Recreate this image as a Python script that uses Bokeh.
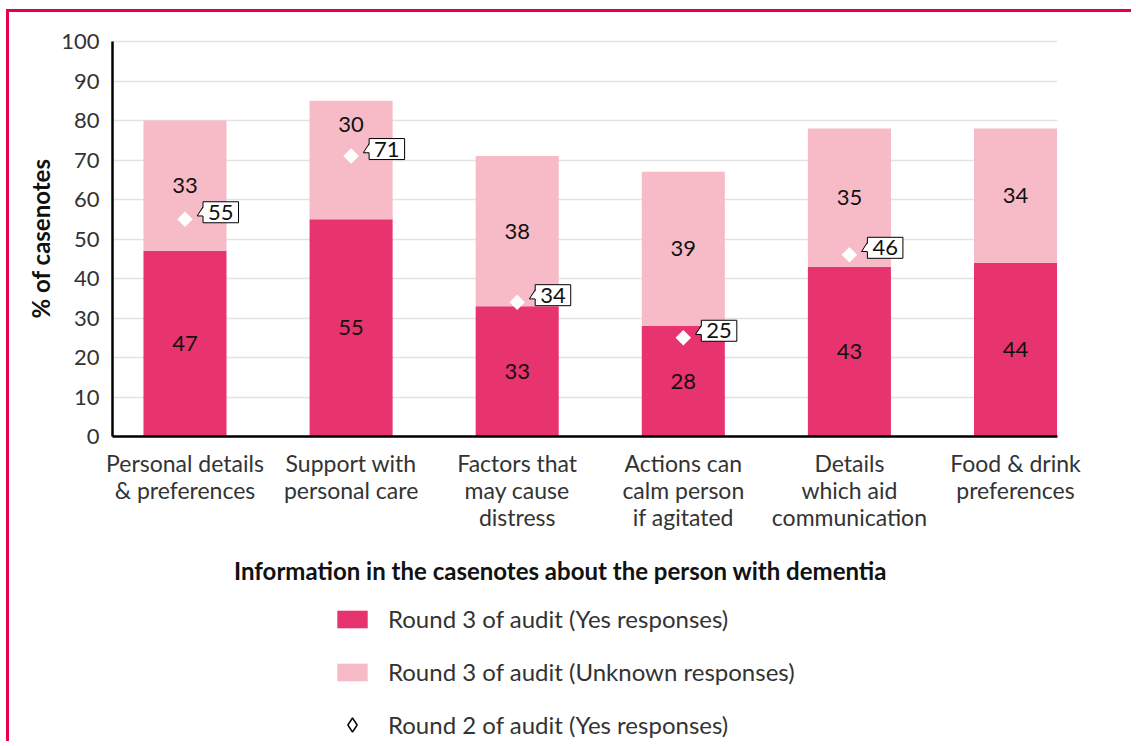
import math
from bokeh.plotting import figure
from bokeh.models import (ColumnDataSource, FixedTicker, Legend, LegendItem, Label, Range1d)
from bokeh.embed import file_html
from bokeh.resources import INLINE
from bokeh.core.properties import value

# ---------------- data ----------------
categories = [
    "Personal details\n& preferences",
    "Support with\npersonal care",
    "Factors that\nmay cause\ndistress",
    "Actions can\ncalm person\nif agitated",
    "Details\nwhich aid\ncommunication",
    "Food & drink\npreferences",
]
yes_round3 = [47, 55, 33, 28, 43, 44]
unknown_round3 = [33, 30, 38, 39, 35, 34]
yes_round2 = [55, 71, 34, 25, 46, None]
y_ticks = [0, 10, 20, 30, 40, 50, 60, 70, 80, 90, 100]

series_labels = [
    "Round 3 of audit (Yes responses)",
    "Round 3 of audit (Unknown responses)",
    "Round 2 of audit (Yes responses)",
]
x_title = "Information in the casenotes about the person with dementia"
y_title = "% of casenotes"

# ---------------- style / layout ----------------
FONT = "Lato"
DARK = "#E7336E"
LIGHT = "#F6BBC7"
FRAME = "#E6004C"
GRID = "#E3E3E3"
TXT = "#333333"
INK = "#111111"

W, H = 1125, 732
ORG_X, ORG_Y = 9, 12          # canvas origin on the page (after css margin + border)
CX0, PXX = 184.5, 166.1       # page x of first category, px per category
CY0, PXY = 436.0, 3.95        # page y of value 0, px per percentage point
XL = (ORG_X - CX0) / PXX
XR = (ORG_X + W - CX0) / PXX
YT = (CY0 - ORG_Y) / PXY
YB = (CY0 - ORG_Y - H) / PXY
XA = (112 - CX0) / PXX        # plot-area left (y axis position)
XB = (1057 - CX0) / PXX       # plot-area right
dx, dy = 1.0 / PXX, 1.0 / PXY

def px_x(page_x):
    return (page_x - CX0) / PXX

def px_y(page_y):
    return (CY0 - page_y) / PXY

xs = list(range(len(categories)))
tops = [a + b for a, b in zip(yes_round3, unknown_round3)]
yes_mid = [v / 2 for v in yes_round3]
unk_mid = []
for i in xs:
    mid = yes_round3[i] + unknown_round3[i] / 2
    r2 = yes_round2[i]
    if r2 is not None and abs(r2 - mid) < 5:
        mid = tops[i] - 6   # moved clear of the round-2 marker
    unk_mid.append(mid)

src = ColumnDataSource(dict(
    x=xs, yes=yes_round3, top=tops, yes_mid=yes_mid, unk_mid=unk_mid,
    yes_lab=[str(v) for v in yes_round3], unk_lab=[str(v) for v in unknown_round3],
))

r2x = [i for i, v in enumerate(yes_round2) if v is not None]
r2y = [v for v in yes_round2 if v is not None]
src2 = ColumnDataSource(dict(x=r2x, y=r2y, lab=[str(v) for v in r2y]))

# callout tails (offsets in px from each marker, converted to data units)
tail_xs = [[x + 12.2 * dx, x + 19.0 * dx, x + 19.0 * dx] for x in r2x]
tail_ys = [[y + 3.3 * dy, y + 12.3 * dy, y + 3.3 * dy] for y in r2y]
edge_xs = [[x + 17.9 * dx, x + 12.2 * dx, x + 17.9 * dx] for x in r2x]
edge_ys = [[y + 12.3 * dy, y + 3.3 * dy, y + 3.3 * dy] for y in r2y]

p = figure(width=W, height=H, x_range=Range1d(XL, XR), y_range=Range1d(YB, YT),
           output_backend="svg", toolbar_location=None,
           min_border_left=0, min_border_right=0, min_border_top=0, min_border_bottom=0)
p.outline_line_color = None
p.styles = {"border-top": f"3px solid {FRAME}", "border-left": f"3px solid {FRAME}",
            "margin-left": "6px", "margin-top": "9px"}

r_yes = p.vbar(x="x", top="yes", bottom=0, width=0.5, source=src, fill_color=DARK, line_color=None)
r_unk = p.vbar(x="x", top="top", bottom="yes", width=0.5, source=src, fill_color=LIGHT, line_color=None)

p.text(x="x", y="yes_mid", text="yes_lab", source=src, text_align="center", text_baseline="middle",
       text_font=value(FONT), text_font_size="22px", text_color=INK)
p.text(x="x", y="unk_mid", text="unk_lab", source=src, text_align="center", text_baseline="middle",
       text_font=value(FONT), text_font_size="22px", text_color=INK)

p.scatter(x="x", y="y", source=src2, marker="square", angle=math.pi / 4, size=11,
          fill_color="white", line_color=None)
p.text(x="x", y="y", text="lab", source=src2, x_offset=18, y_offset=-7,
       text_align="left", text_baseline="middle", text_font=value(FONT),
       text_font_size="22px", text_color=INK,
       background_fill_color="white", border_line_color="black", border_line_width=1,
       padding=(5, 3))
p.patches(xs=tail_xs, ys=tail_ys, fill_color="white", line_color=None)
p.multi_line(xs=edge_xs, ys=edge_ys, line_color="black", line_width=1)

# legend-only marker (outlined diamond)
r_leg = p.scatter(x=[math.nan], y=[math.nan], marker="diamond",
                  fill_color="white", line_color="black", line_width=1.4)

# axes and grid
p.xgrid.visible = False
p.ygrid.grid_line_color = GRID
p.ygrid.grid_line_width = 1.5
p.ygrid.ticker = FixedTicker(ticks=y_ticks)
p.ygrid.cross_bounds = (XA, XB)
p.yaxis.ticker = FixedTicker(ticks=y_ticks)
p.yaxis.bounds = (0, 100)
p.yaxis.fixed_location = XA
p.xaxis.ticker = FixedTicker(ticks=xs)
p.xaxis.bounds = (XA, XB)
p.xaxis.fixed_location = 0
p.xaxis.major_label_overrides = {i: c for i, c in enumerate(categories)}
for ax in (p.xaxis[0], p.yaxis[0]):
    ax.axis_line_color = "black"
    ax.axis_line_width = 2.5
    ax.major_tick_line_color = None
    ax.minor_tick_line_color = None
    ax.major_label_text_font = FONT
    ax.major_label_text_color = TXT
p.yaxis.major_label_text_font_size = "22px"
p.yaxis.major_label_standoff = 7
p.xaxis.major_label_text_font_size = "23px"
p.xaxis.major_label_standoff = 6
p.xaxis.major_label_text_line_height = 0.97

p.add_layout(Label(x=px_x(40), y=px_y(238), text=y_title, angle=math.pi / 2,
                   text_align="center", text_baseline="middle", text_font=FONT,
                   text_font_size="24px", text_font_style="bold", text_color=INK))
p.add_layout(Label(x=px_x(560), y=px_y(570), text=x_title, text_align="center",
                   text_baseline="middle", text_font=FONT, text_font_size="24px",
                   text_font_style="bold", text_color=INK))

common = dict(orientation="vertical", glyph_width=38, label_standoff=17, padding=0, margin=0,
              border_line_color=None, background_fill_alpha=0, label_text_font=FONT,
              label_text_font_size="24px", label_text_color=TXT)
legend_a = Legend(items=[
    LegendItem(label=series_labels[0], renderers=[r_yes]),
    LegendItem(label=series_labels[1], renderers=[r_unk]),
], location=(333 - ORG_X, 58), glyph_height=22, spacing=24, label_height=22, **common)
legend_b = Legend(items=[
    LegendItem(label=series_labels[2], renderers=[r_leg]),
], location=(333 - ORG_X, 2), glyph_height=35, spacing=0, label_height=22, **common)
p.add_layout(legend_a, "center")
p.add_layout(legend_b, "center")

open("out.html", "w").write(file_html(p, INLINE))
